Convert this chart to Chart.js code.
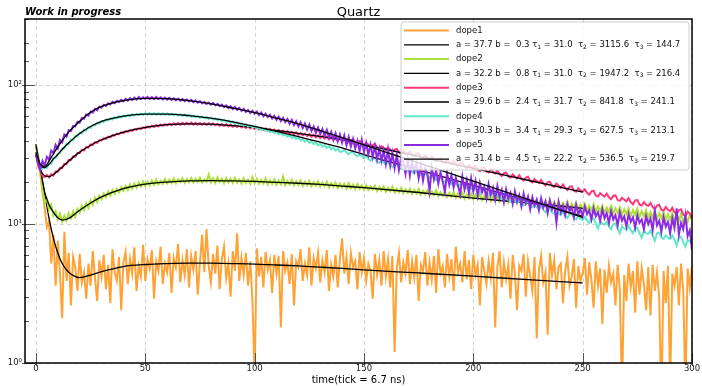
<!DOCTYPE html>
<html>
<head>
<meta charset="utf-8">
<script src="https://cdn.jsdelivr.net/npm/chart.js@4.4.1/dist/chart.umd.min.js"></script>
<style>
  html, body { margin: 0; padding: 0; background: #fff; }
</style>
</head>
<body>
<canvas id="quartz" width="702" height="386"></canvas>
<script>
// one value per tick, x = 0 .. 300
const dope1 = [
  36, 31, 23, 17, 13, 9.5, 10.5, 5.2, 8.4, 3.6,
  7.6, 4.4, 2.1, 8.8, 3.9, 6.2, 2.6, 5.8, 4.9, 3.3,
  6.1, 3.8, 4.5, 2.9, 5.2, 3.6, 6.4, 4.1, 2.8, 5.5,
  4.2, 6.0, 3.4, 5.1, 2.7, 6.6, 4.5, 3.9, 5.8, 2.4,
  5.3, 6.3, 3.7, 5.6, 4.4, 6.8, 3.3, 5.0, 4.2, 7.1,
  3.9, 5.6, 4.8, 6.5, 2.9, 5.4, 4.6, 6.9, 3.7, 5.2,
  4.5, 6.2, 3.2, 5.7, 4.9, 7.2, 3.8, 5.5, 4.3, 6.6,
  3.5, 5.9, 4.7, 6.4, 3.1, 5.3, 8.4, 4.5, 9.2, 5.0,
  3.8, 6.1, 4.4, 7.0, 3.4, 5.6, 6.9, 4.1, 5.2, 3.0,
  6.4, 4.6, 8.6, 3.9, 5.7, 4.3, 6.2, 3.6, 5.4, 2.8,
  0.8, 6.7, 4.2, 5.8, 3.5, 6.3, 4.7, 5.5, 3.2, 6.0,
  4.4, 5.9, 1.8, 6.4, 4.6, 5.3, 3.7, 6.1, 2.6, 5.4,
  4.9, 6.6, 3.9, 5.2, 4.3, 6.8, 3.6, 5.7, 4.8, 6.2,
  3.8, 5.5, 4.5, 6.5, 3.3, 5.1, 4.2, 6.0, 3.5, 5.6,
  7.9, 4.4, 5.8, 3.7, 6.2, 4.9, 5.4, 3.4, 6.3, 4.5,
  5.7, 3.9, 5.2, 4.6, 2.9, 6.1, 4.3, 5.5, 3.6, 6.4,
  4.2, 5.6, 3.5, 5.9, 1.2, 4.8, 6.2, 3.8, 5.3, 4.4,
  6.5, 3.7, 5.4, 4.1, 6.0, 2.8, 5.1, 4.6, 6.3, 3.6,
  5.3, 4.0, 5.9, 3.2, 6.6, 4.4, 5.0, 3.5, 6.1, 4.2,
  5.6, 3.3, 6.9, 4.5, 5.2, 3.8, 6.4, 4.0, 5.5, 3.4,
  6.0, 4.3, 5.1, 2.6, 5.8, 4.6, 3.7, 5.4, 4.1, 6.2,
  1.8, 4.9, 6.4, 3.5, 5.3, 4.0, 5.1, 2.9, 6.0, 4.4,
  2.4, 5.0, 4.6, 6.1, 3.0, 5.4, 4.2, 3.3, 5.8, 1.5,
  4.7, 5.9, 3.8, 4.5, 1.6, 6.2, 4.3, 5.5, 3.4, 4.9,
  5.2, 2.7, 4.6, 5.8, 3.6, 4.2, 5.6, 2.5, 5.0, 3.9,
  4.4, 5.7, 3.1, 5.3, 4.0, 2.5, 5.4, 3.6, 4.8, 1.9,
  4.7, 3.2, 5.0, 3.8, 4.4, 2.6, 5.1, 3.4, 0.6, 4.3,
  2.8, 5.2, 3.5, 4.6, 2.3, 5.4, 3.1, 4.8, 3.7, 2.4,
  4.9, 2.2, 5.1, 3.3, 4.5, 3.0, 0.5, 4.6, 2.7, 5.0,
  0.7, 4.4, 3.6, 4.9, 2.6, 5.2, 3.3, 0.6, 4.8, 3.5,
  5.0
];
const dope2 = [
  37, 31, 24, 18, 14.3, 15.2, 12.6, 13.8, 11.5, 12.4,
  10.8, 11.9, 10.4, 11.5, 10.6, 12.0, 11.0, 12.4, 11.3, 12.9,
  12.1, 13.6, 12.6, 14.2, 13.1, 14.9, 13.8, 15.5, 14.4, 16.0,
  15.1, 16.6, 15.6, 17.2, 16.0, 17.6, 16.5, 18.0, 16.9, 18.5,
  17.4, 18.9, 17.6, 19.3, 18.0, 19.6, 18.3, 19.9, 18.6, 20.3,
  18.8, 20.2, 19.0, 20.6, 19.2, 20.9, 19.4, 20.5, 19.5, 21.1,
  19.6, 20.9, 19.8, 21.3, 19.7, 21.0, 20.0, 21.4, 19.8, 21.1,
  20.0, 21.5, 19.9, 21.2, 20.1, 21.6, 19.9, 21.0, 20.2, 22.8,
  20.0, 21.4, 19.8, 21.7, 20.1, 21.2, 19.7, 21.5, 20.0, 21.3,
  19.8, 21.6, 19.9, 21.0, 19.6, 21.4, 19.8, 20.9, 19.5, 21.8,
  19.7, 21.2, 19.5, 20.8, 19.6, 21.3, 19.3, 20.7, 19.5, 21.0,
  19.2, 20.6, 19.4, 22.0, 19.1, 20.5, 19.3, 20.8, 19.0, 20.4,
  19.1, 20.6, 18.8, 20.2, 19.0, 20.5, 18.7, 20.1, 18.9, 20.3,
  18.6, 19.9, 18.8, 20.2, 18.4, 19.7, 18.6, 19.9, 18.2, 19.6,
  18.4, 19.5, 18.0, 19.7, 18.2, 19.3, 17.8, 19.4, 17.9, 19.0,
  17.7, 19.1, 17.6, 18.7, 17.8, 18.9, 17.3, 18.5, 17.4, 18.7,
  17.1, 18.3, 17.2, 18.6, 16.9, 18.0, 17.0, 18.2, 16.7, 17.8,
  16.8, 18.0, 16.5, 17.6, 16.6, 17.9, 16.3, 17.4, 16.4, 17.6,
  16.1, 17.2, 16.2, 17.5, 15.9, 17.0, 16.0, 17.2, 15.7, 16.8,
  15.8, 17.0, 15.5, 16.6, 15.6, 16.9, 15.3, 16.4, 15.4, 16.6,
  15.1, 16.3, 15.2, 16.5, 14.9, 16.0, 15.0, 16.2, 14.7, 15.8,
  14.8, 16.0, 14.5, 15.6, 14.6, 15.9, 14.3, 15.4, 14.4, 15.6,
  14.1, 15.2, 14.2, 15.5, 13.9, 15.0, 14.0, 15.2, 13.7, 14.8,
  13.8, 15.0, 13.5, 14.6, 13.6, 14.9, 13.3, 14.4, 13.4, 14.6,
  13.1, 14.2, 13.2, 14.5, 12.9, 14.0, 13.0, 14.2, 12.7, 13.8,
  12.8, 14.0, 12.5, 13.6, 12.6, 13.9, 12.3, 13.4, 12.4, 13.6,
  12.1, 13.2, 12.2, 13.5, 11.9, 13.0, 12.0, 13.2, 11.7, 12.8,
  11.8, 13.0, 11.5, 12.6, 11.6, 12.9, 11.3, 12.4, 11.4, 12.6,
  11.1, 12.2, 11.2, 12.5, 10.9, 12.0, 11.0, 12.2, 10.7, 11.8,
  10.8, 12.0, 10.5, 11.6, 10.6, 11.9, 10.3, 11.4, 10.4, 11.6,
  10.8
];
const dope3 = [
  32, 26.5, 24.2, 22.4, 21.8, 22.6, 21.7, 22.9, 22.4, 23.9,
  23.8, 25.4, 25.3, 27.2, 27.0, 29.0, 28.9, 30.8, 30.6, 32.6,
  32.4, 34.3, 34.0, 35.9, 35.6, 37.5, 37.1, 38.9, 38.5, 40.3,
  39.9, 41.4, 41.1, 42.6, 42.2, 43.7, 43.3, 44.9, 44.3, 45.8,
  45.3, 46.7, 46.1, 47.5, 46.9, 48.3, 47.7, 49.0, 48.3, 49.8,
  49.0, 50.6, 49.6, 51.1, 50.1, 51.7, 50.5, 52.2, 51.0, 52.5,
  51.4, 52.9, 51.6, 53.2, 51.9, 53.4, 52.0, 53.6, 52.1, 53.7,
  52.2, 53.8, 52.1, 53.6, 52.0, 53.5, 51.9, 53.4, 51.8, 53.3,
  51.7, 53.1, 51.5, 52.8, 51.2, 52.6, 50.9, 52.3, 50.6, 52.0,
  50.3, 51.7, 50.0, 51.3, 49.6, 51.0, 49.2, 50.6, 48.8, 50.2,
  48.5, 49.8, 48.0, 49.4, 47.6, 48.9, 47.1, 48.5, 46.7, 48.0,
  46.2, 47.6, 45.8, 47.1, 45.3, 46.7, 44.9, 46.2, 44.4, 45.8,
  44.0, 45.3, 43.5, 44.9, 43.1, 44.4, 42.6, 44.0, 42.2, 43.5,
  41.7, 43.1, 41.3, 42.6, 40.8, 42.2, 40.3, 41.7, 39.8, 41.2,
  40.4, 41.6, 40.0, 38.9, 40.3, 40.9, 39.0, 38.2, 39.6, 38.4,
  37.2, 38.5, 37.5, 36.0, 37.1, 37.8, 35.6, 35.0, 36.5, 35.4,
  34.3, 35.6, 34.5, 33.1, 34.4, 34.8, 32.7, 32.2, 33.6, 32.6,
  32.0, 33.2, 31.6, 30.9, 32.1, 32.3, 30.3, 29.8, 31.2, 30.2,
  29.4, 30.6, 29.3, 28.3, 29.5, 29.7, 27.9, 27.4, 28.8, 27.8,
  27.1, 28.4, 27.2, 26.1, 27.3, 27.6, 25.9, 25.3, 26.6, 25.7,
  25.5, 26.2, 24.6, 24.1, 25.4, 25.7, 23.9, 23.5, 24.8, 23.9,
  23.1, 24.2, 23.0, 22.2, 23.3, 23.5, 22.0, 21.6, 22.8, 22.0,
  21.4, 22.5, 21.3, 20.6, 21.6, 21.9, 20.4, 20.0, 21.1, 20.4,
  19.8, 20.8, 19.7, 19.0, 20.0, 20.2, 18.8, 18.5, 19.6, 18.9,
  18.3, 19.3, 18.2, 17.6, 18.6, 18.7, 17.4, 17.1, 18.1, 17.5,
  17.1, 17.8, 16.8, 16.3, 17.2, 17.4, 16.1, 15.8, 16.7, 16.2,
  15.8, 16.6, 15.6, 15.1, 16.0, 16.1, 14.9, 14.7, 15.5, 15.0,
  14.6, 15.4, 14.4, 13.9, 14.8, 14.9, 13.8, 13.6, 14.4, 13.8,
  13.5, 14.2, 13.3, 12.8, 13.6, 13.8, 12.7, 12.5, 13.3, 12.7,
  12.4, 13.1, 12.2, 11.8, 12.6, 12.8, 11.7, 11.4, 12.3, 11.9,
  10.9
];
const dope4 = [
  33, 28.5, 26.2, 25.0, 25.8, 25.4, 27.4, 27.2, 29.8, 29.9,
  32.2, 32.4, 35.0, 35.1, 37.9, 37.6, 40.6, 40.2, 43.2, 42.8,
  45.6, 45.0, 47.8, 47.2, 50.0, 49.3, 51.9, 51.2, 53.6, 52.8,
  55.3, 54.4, 56.6, 55.6, 57.8, 56.7, 58.9, 57.7, 59.8, 58.6,
  60.6, 59.3, 61.2, 59.9, 61.8, 60.4, 62.3, 60.8, 62.6, 61.1,
  62.8, 61.2, 63.0, 61.3, 63.0, 61.4, 63.0, 61.3, 62.9, 61.2,
  62.8, 61.0, 62.5, 60.8, 62.2, 60.5, 61.9, 60.1, 61.5, 59.7,
  61.1, 59.3, 60.6, 58.8, 60.1, 58.3, 59.6, 57.8, 59.0, 57.2,
  58.4, 56.6, 57.8, 55.9, 57.1, 55.2, 56.3, 54.5, 55.6, 53.7,
  54.8, 52.9, 54.0, 52.1, 53.1, 51.3, 52.3, 50.4, 51.4, 49.6,
  50.6, 48.7, 49.7, 47.8, 48.8, 47.0, 47.9, 46.1, 47.0, 45.2,
  46.2, 44.3, 45.3, 43.5, 44.4, 42.6, 43.6, 41.8, 42.7, 41.0,
  41.9, 40.1, 41.0, 39.3, 40.2, 38.5, 39.4, 37.7, 38.6, 36.9,
  37.9, 36.1, 37.1, 35.4, 36.3, 34.6, 35.6, 33.9, 34.8, 33.2,
  33.2, 34.3, 32.9, 31.8, 32.9, 33.3, 31.3, 30.8, 32.0, 30.9,
  29.8, 30.9, 29.6, 28.6, 29.7, 30.0, 28.1, 27.6, 28.8, 27.8,
  26.8, 27.8, 26.6, 25.7, 26.7, 27.0, 25.3, 24.9, 25.9, 25.0,
  24.0, 25.0, 23.9, 23.1, 24.0, 24.3, 22.7, 22.3, 23.3, 22.5,
  21.6, 22.5, 21.5, 20.7, 21.6, 21.9, 20.4, 20.1, 21.0, 20.2,
  19.4, 20.3, 19.4, 18.7, 19.5, 19.7, 18.4, 18.1, 18.9, 18.2,
  17.4, 18.3, 17.4, 16.8, 17.6, 17.8, 16.5, 16.2, 17.0, 16.4,
  15.7, 16.4, 15.6, 15.1, 15.8, 16.0, 14.8, 14.6, 15.3, 14.8,
  14.1, 14.9, 14.1, 13.6, 14.3, 14.5, 13.4, 13.2, 13.8, 13.3,
  12.8, 13.4, 12.7, 12.2, 12.9, 13.1, 12.1, 11.9, 12.5, 12.0,
  11.6, 12.2, 11.5, 11.1, 11.8, 11.9, 11.0, 10.8, 11.4, 11.0,
  10.7, 11.3, 10.6, 10.2, 10.9, 11.0, 10.1, 9.3, 10.5, 10.1,
  9.9, 10.4, 9.7, 9.2, 10.0, 10.1, 9.3, 8.6, 9.6, 9.3,
  9.1, 9.7, 9.0, 8.6, 9.3, 9.4, 8.6, 8.0, 8.9, 8.6,
  8.5, 9.0, 8.3, 7.6, 8.6, 8.7, 8.0, 7.8, 8.3, 8.0,
  7.8, 8.3, 7.7, 7.0, 8.0, 8.1, 7.4, 6.9, 7.7, 7.5,
  7.2
];
const dope5 = [
  32, 27.5, 24.8, 28.5, 26.4, 30.5, 29.2, 33.8, 32.4, 37.2,
  35.0, 40.5, 38.8, 44.2, 42.6, 47.5, 46.8, 50.8, 50.6, 54.6,
  53.8, 58.2, 57.4, 61.6, 60.4, 64.7, 63.5, 67.6, 66.0, 70.2,
  68.8, 72.4, 70.9, 74.2, 72.6, 75.9, 74.3, 77.4, 75.7, 78.6,
  76.6, 79.7, 77.4, 80.8, 78.2, 81.4, 78.9, 82.3, 79.4, 81.9,
  79.6, 82.6, 79.8, 82.1, 79.5, 82.4, 79.6, 81.8, 79.2, 81.5,
  78.8, 81.2, 78.5, 80.6, 77.9, 80.2, 77.4, 79.5, 76.9, 78.9,
  76.3, 78.4, 75.6, 77.6, 74.9, 77.0, 74.1, 76.1, 73.3, 75.2,
  72.4, 74.6, 71.5, 73.5, 70.6, 72.6, 69.6, 71.7, 68.6, 70.6,
  67.5, 69.8, 66.5, 68.6, 65.4, 67.7, 64.3, 66.4, 63.2, 65.5,
  62.3, 64.6, 61.0, 63.7, 59.8, 62.5, 58.9, 61.4, 57.6, 60.3,
  56.4, 59.4, 55.2, 58.1, 54.3, 57.2, 52.8, 56.4, 51.6, 55.0,
  50.6, 54.2, 49.3, 53.0, 48.0, 52.1, 46.8, 50.4, 45.4, 49.6,
  44.6, 48.4, 43.2, 47.6, 42.0, 46.2, 40.6, 45.0, 39.4, 44.2,
  38.6, 43.5, 37.0, 42.4, 36.2, 41.0, 35.0, 39.8, 33.6, 40.4,
  33.0, 38.4, 31.6, 37.2, 30.5, 36.4, 29.2, 35.0, 28.6, 33.8,
  27.2, 34.6, 26.5, 32.4, 25.4, 31.6, 24.6, 30.2, 27.8, 23.0,
  29.6, 22.4, 28.4, 24.0, 27.2, 21.4, 26.6, 20.6, 25.2, 22.8,
  17.4, 25.6, 21.0, 24.4, 19.6, 23.6, 20.4, 17.0, 23.2, 19.2,
  22.4, 18.4, 21.6, 19.0, 16.4, 22.0, 17.8, 20.8, 16.6, 21.4,
  17.2, 20.4, 16.0, 19.8, 17.0, 18.6, 15.4, 19.4, 16.2, 18.2,
  15.0, 18.8, 15.6, 17.6, 14.4, 17.8, 15.2, 16.8, 14.0, 17.2,
  14.6, 16.2, 13.4, 16.6, 14.2, 15.8, 12.8, 15.6, 13.6, 15.0,
  12.6, 15.4, 13.2, 14.6, 12.0, 14.8, 12.8, 14.0, 10.2, 14.4,
  12.2, 13.6, 11.6, 14.0, 12.4, 13.2, 11.2, 13.8, 11.8, 12.8,
  11.4, 13.4, 11.8, 12.6, 10.8, 13.0, 11.4, 12.2, 10.6, 12.8,
  11.0, 12.0, 10.2, 12.4, 10.8, 11.6, 9.8, 12.2, 10.6, 11.4,
  9.6, 11.8, 10.4, 11.2, 9.4, 11.6, 10.2, 10.8, 9.2, 11.4,
  10.0, 11.0, 9.0, 12.4, 9.8, 10.6, 8.8, 11.2, 9.6, 10.4,
  8.6, 11.0, 9.4, 13.0, 8.4, 10.2, 9.2, 11.6, 8.2, 9.0,
  6.5
];

// fitted curves, read at these ticks
const fitX = [0, 2, 4, 6, 8, 10, 12, 15, 20, 25, 30, 40, 50, 60, 70, 80, 90, 100, 110, 120, 130, 140, 150, 175, 200, 225, 250];
const fit1 = [37.7, 25, 16.5, 11, 7.9, 6.2, 5.2, 4.5, 4.12, 4.3, 4.55, 4.95, 5.12, 5.2, 5.24, 5.23, 5.2, 5.16, 5.08, 5.0, 4.9, 4.8, 4.68, 4.45, 4.22, 3.98, 3.77];
const fit2 = [37, 25, 17, 13.8, 12.2, 11.1, 10.7, 11.0, 12.6, 14.2, 15.7, 18, 19.4, 20.1, 20.5, 20.6, 20.5, 20.3, 20.0, 19.7, 19.3, 18.8, 18.3, 16.9, 15.4, 14.2, 13.0];
const fit3 = [31, 24.5, 22.3, 22, 22.8, 24.2, 25.8, 28.5, 33, 37, 40.5, 46, 49.8, 52, 52.8, 52.5, 51.2, 49.5, 47.3, 45, 42.8, 40.5, 37.4, 30.7, 25.2, 20.7, 17];
const fit4 = [32, 26.5, 25.5, 27, 29.5, 31.7, 34.5, 38.5, 45, 50.5, 55, 60, 62, 62, 60.5, 58, 54.5, 50.5, 46.5, 42.6, 39, 35.4, 31.7, 24.6, 19.0, 14.7, 11.4];
const fit5 = [33, 27, 26, 28.5, 32, 36, 40, 46, 55, 64, 70.5, 77.5, 80.5, 80, 77.5, 73.5, 68.5, 63.5, 58, 52.7, 47.2, 42, 37.2, 27.6, 20.4, 15.1, 11.2];

// fit parameters shown in the legend
const names = ['dope1', 'dope2', 'dope3', 'dope4', 'dope5'];
const fitA = [37.7, 32.2, 29.6, 30.3, 31.4];
const fitB = [0.3, 0.8, 2.4, 3.4, 4.5];
const tau1 = [31.0, 31.0, 31.7, 29.3, 22.2];
const tau2 = [3115.6, 1947.2, 841.8, 627.5, 536.5];
const tau3 = [144.7, 216.4, 241.1, 213.1, 219.7];

const xTicks = [0, 50, 100, 150, 200, 250, 300];
const yTickVals = [1, 10, 100];
const yTickText = ['10\u2070', '10\u00b9', '10\u00b2'];

const colors = ['#ffa236', '#ade03a', '#fb3a78', '#62e8c8', '#8a2be2'];
const FONT = '"DejaVu Sans", sans-serif';

const series = [dope1, dope2, dope3, dope4, dope5];
const fits = [fit1, fit2, fit3, fit4, fit5];
const sampleX = dope1.map((_, i) => i);
const toPts = (xs, ys) => ys.map((v, i) => ({ x: xs[i], y: v }));
const fitLabel = k => 'a = ' + fitA[k].toFixed(1) + ' b =  ' + fitB[k].toFixed(1) +
  ' \u03c4_1 = ' + tau1[k].toFixed(1) + '  \u03c4_2 = ' + tau2[k].toFixed(1) +
  '  \u03c4_3 = ' + tau3[k].toFixed(1);

const datasets = [];
names.forEach((name, k) => {
  datasets.push({
    label: name, data: toPts(sampleX, series[k]),
    borderColor: colors[k], borderWidth: 2, pointRadius: 0, tension: 0,
    order: 10 - 2 * k
  });
  datasets.push({
    label: fitLabel(k), data: toPts(fitX, fits[k]),
    borderColor: '#000', borderWidth: 1.3, pointRadius: 0,
    cubicInterpolationMode: 'monotone', order: 9 - 2 * k
  });
});

const isDecade = v => Math.abs(Math.log10(v) - Math.round(Math.log10(v))) < 1e-9;

// text with _n subscripts, matplotlib mathtext style
function drawRich(ctx, str, x, y, size) {
  str.split(/(_\d)/).forEach(p => {
    if (!p) return;
    if (p[0] === '_') {
      ctx.font = (size * 0.7) + 'px ' + FONT;
      ctx.fillText(p[1], x, y + size * 0.28);
      x += ctx.measureText(p[1]).width;
    } else {
      ctx.font = size + 'px ' + FONT;
      ctx.fillText(p, x, y);
      x += ctx.measureText(p).width;
    }
  });
}

const decor = {
  id: 'decor',
  beforeDatasetsDraw(chart) {
    const { ctx, chartArea: a, scales: { x, y } } = chart;
    ctx.save();
    ctx.strokeStyle = '#d4d4d4';
    ctx.lineWidth = 1;
    ctx.setLineDash([4, 3]);
    ctx.beginPath();
    x.ticks.forEach(t => {
      const px = Math.round(x.getPixelForValue(t.value)) + 0.5;
      ctx.moveTo(px, a.top); ctx.lineTo(px, a.bottom);
    });
    y.ticks.filter(t => isDecade(t.value)).forEach(t => {
      const py = Math.round(y.getPixelForValue(t.value)) + 0.5;
      ctx.moveTo(a.left, py); ctx.lineTo(a.right, py);
    });
    ctx.stroke();
    ctx.restore();
  },
  afterDatasetsDraw(chart) {
    const { ctx, chartArea: a, scales: { x, y } } = chart;
    ctx.save();
    // tick marks, pointing in
    ctx.strokeStyle = '#555';
    ctx.lineWidth = 1;
    ctx.beginPath();
    x.ticks.forEach(t => {
      const px = Math.round(x.getPixelForValue(t.value)) + 0.5;
      ctx.moveTo(px, a.bottom + 3); ctx.lineTo(px, a.bottom - 10);
    });
    y.ticks.forEach(t => {
      const py = Math.round(y.getPixelForValue(t.value)) + 0.5;
      const major = isDecade(t.value);
      ctx.moveTo(a.left - (major ? 3 : 1), py); ctx.lineTo(a.left + (major ? 10 : 4), py);
    });
    ctx.stroke();
    // spines
    ctx.strokeStyle = '#000';
    ctx.lineWidth = 1.5;
    ctx.strokeRect(a.left, a.top, a.right - a.left, a.bottom - a.top);
    ctx.restore();
  },
  afterDraw(chart) {
    const { ctx, chartArea: a } = chart;
    const ds = chart.data.datasets;
    ctx.save();
    // titles
    ctx.fillStyle = '#000';
    ctx.textBaseline = 'alphabetic';
    ctx.font = '13px ' + FONT;
    ctx.textAlign = 'center';
    ctx.fillText('Quartz', (a.left + a.right) / 2, 15.5);
    ctx.font = 'italic bold 10px ' + FONT;
    ctx.textAlign = 'left';
    ctx.fillText('Work in progress', a.left, 15);

    // legend
    const rowH = 14.3, boxW = 288, boxH = 148, r = 3;
    const bx = a.right - 3 - boxW, by = a.top + 3;
    ctx.beginPath();
    ctx.moveTo(bx + r, by);
    ctx.arcTo(bx + boxW, by, bx + boxW, by + boxH, r);
    ctx.arcTo(bx + boxW, by + boxH, bx, by + boxH, r);
    ctx.arcTo(bx, by + boxH, bx, by, r);
    ctx.arcTo(bx, by, bx + boxW, by, r);
    ctx.closePath();
    ctx.globalAlpha = 0.8;
    ctx.fillStyle = '#fff';
    ctx.fill();
    ctx.globalAlpha = 1;
    ctx.strokeStyle = '#cccccc';
    ctx.lineWidth = 1;
    ctx.stroke();
    ctx.textBaseline = 'middle';
    ds.forEach((d, i) => {
      const cy = by + 8.5 + i * rowH;
      ctx.strokeStyle = d.borderColor;
      ctx.lineWidth = d.borderWidth;
      ctx.beginPath();
      ctx.moveTo(bx + 3, cy); ctx.lineTo(bx + 48, cy);
      ctx.stroke();
      ctx.fillStyle = '#111';
      drawRich(ctx, d.label, bx + 55, cy, 8.5);
    });
    ctx.restore();
  }
};

new Chart(document.getElementById('quartz'), {
  type: 'line',
  data: { datasets },
  plugins: [decor],
  options: {
    responsive: false,
    animation: false,
    devicePixelRatio: 1,
    layout: { padding: { top: 19, right: 10, left: 0, bottom: 0 } },
    plugins: {
      legend: { display: false },
      tooltip: { enabled: false },
      title: { display: false }
    },
    scales: {
      x: {
        type: 'linear', min: -5, max: 300,
        afterBuildTicks: s => { s.ticks = xTicks.map(v => ({ value: v })); },
        afterFit: s => { s.height = 23; },
        grid: { display: false, drawTicks: false },
        border: { display: false },
        ticks: { font: { family: FONT, size: 8.5 }, color: '#222', padding: 1, maxRotation: 0, autoSkip: false },
        title: {
          display: true, text: 'time(tick = 6.7 ns)', color: '#000',
          font: { family: FONT, size: 10 }, padding: { top: 0, bottom: 0 }
        }
      },
      y: {
        type: 'logarithmic', min: 1, max: 300,
        afterFit: s => { s.width = 25; },
        grid: { display: false, drawTicks: false },
        border: { display: false },
        ticks: {
          autoSkip: false, padding: 3, color: '#222',
          font: { family: FONT, size: 8.5 },
          callback: v => {
            const i = yTickVals.findIndex(t => Math.abs(t - v) < 1e-6 * t);
            return i < 0 ? '' : yTickText[i];
          }
        }
      }
    }
  }
});
</script>
</body>
</html>
